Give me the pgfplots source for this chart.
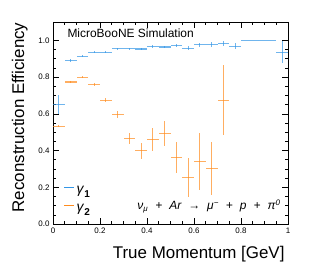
\documentclass[border=0pt]{standalone}
\usepackage{fontspec}
\setmainfont{Liberation Sans}
\usepackage{pgfplots}
\pgfplotsset{compat=1.18}
\definecolor{cblue}{RGB}{51,150,230}
\definecolor{corange}{RGB}{255,140,30}
\begin{document}
\begin{tikzpicture}
\path[use as bounding box] (0,0) rectangle (313bp,272bp);
\begin{axis}[
  at={(53bp,48bp)}, anchor=south west, scale only axis,
  width=235bp, height=202bp,
  xmin=0, xmax=1, ymin=0, ymax=1.1,
  xtick={0,0.2,0.4,0.6,0.8,1}, xticklabels={0,0.2,0.4,0.6,0.8,1},
  ytick={0,0.2,0.4,0.6,0.8,1.0}, yticklabels={0.0,0.2,0.4,0.6,0.8,1.0},
  minor x tick num=3, minor y tick num=3,
  tick align=inside, xtick pos=both, ytick pos=both,
  major tick length=6bp, minor tick length=3bp,
  tick style={black, line width=0.6pt},
  axis line style={line width=0.6pt},
  tick label style={font=\fontsize{8}{9}\selectfont},
  /pgf/number format/assume math mode=true,
  legend style={at={(rel axis cs:0.045,0.045)}, anchor=south west, draw=none, fill=none,
    font=\fontsize{14}{15}\selectfont, row sep=5bp, inner sep=0pt},
  legend cell align=left,
  legend image code/.code={\draw[#1] (0bp,3bp) -- (10bp,3bp);},
  clip=false,
]
\addlegendimage{cblue, line width=0.9pt}
\addlegendentry{\textit{γ}\raisebox{-4bp}{\fontsize{10}{10}\selectfont\textbf{1}}}
\addlegendimage{corange, line width=0.9pt}
\addlegendentry{\textit{γ}\raisebox{-4bp}{\fontsize{10}{10}\selectfont\textbf{2}}}
\addplot[forget plot, cblue, draw opacity=0, mark=+, mark size=1.3pt, mark options={cblue!80!black, line width=0.4pt},
  error bars/.cd, x dir=both, x explicit, y dir=both, y explicit, error mark=none,
  error bar style={cblue, line width=1.1pt, opacity=0.7}]
  coordinates {
  (0.025,0.650) +- (0.025,0.050)
  (0.075,0.888) +- (0.025,0.008)
  (0.125,0.913) +- (0.025,0.006)
  (0.175,0.936) +- (0.025,0.005)
  (0.225,0.936) +- (0.025,0.005)
  (0.275,0.955) +- (0.025,0.005)
  (0.325,0.955) +- (0.025,0.005)
  (0.375,0.953) +- (0.025,0.005)
  (0.425,0.967) +- (0.025,0.006)
  (0.475,0.964) +- (0.025,0.007)
  (0.525,0.973) +- (0.025,0.008)
  (0.575,0.957) +- (0.025,0.010)
  (0.625,0.976) +- (0.025,0.011)
  (0.675,0.978) +- (0.025,0.012)
  (0.725,0.982) +- (0.025,0.012)
  (0.775,0.969) +- (0.025,0.016)
  (0.825,1.000) +- (0.025,0.000)
  (0.875,1.000) +- (0.025,0.000)
  (0.925,1.000) +- (0.025,0.000)
  (0.975,0.936) +- (0.025,0.060)
  };
\addplot[forget plot, corange, draw opacity=0, mark=+, mark size=1.3pt, mark options={corange!85!black, line width=0.4pt},
  error bars/.cd, x dir=both, x explicit, y dir=both, y explicit, error mark=none,
  error bar style={corange, line width=1.1pt, opacity=0.7}]
  coordinates {
  (0.025,0.533) +- (0.025,0.004)
  (0.075,0.773) +- (0.025,0.005)
  (0.125,0.799) +- (0.025,0.006)
  (0.175,0.761) +- (0.025,0.008)
  (0.225,0.674) +- (0.025,0.012)
  (0.275,0.596) +- (0.025,0.020)
  (0.325,0.467) +- (0.025,0.030)
  (0.375,0.399) +- (0.025,0.043)
  (0.425,0.462) +- (0.025,0.063)
  (0.475,0.495) +- (0.025,0.068)
  (0.525,0.361) +- (0.025,0.085)
  (0.575,0.255) +- (0.025,0.107)
  (0.625,0.339) +- (0.025,0.156)
  (0.675,0.304) +- (0.025,0.145)
  (0.725,0.674) +- (0.025,0.190)
  };
\end{axis}
\node[anchor=base west, font=\fontsize{12}{13}\selectfont] at (64bp,234bp) {MicroBooNE Simulation};
\node[anchor=base east, font=\fontsize{12}{12}\selectfont\itshape] at (284bp,62bp) {ν\textsubscript{μ}\hspace{7bp}+\hspace{7bp}Ar\hspace{7bp}→\hspace{7bp}μ\textsuperscript{−}\hspace{7bp}+\hspace{7bp}p\hspace{7bp}+\hspace{7bp}π\textsuperscript{0}};
\node[anchor=base east, font=\fontsize{17}{18}\selectfont] at (288bp,14bp) {True Momentum [GeV]};
\node[anchor=base east, rotate=90, font=\fontsize{17}{18}\selectfont] at (24bp,253bp) {Reconstruction Efficiency};
\end{tikzpicture}
\end{document}
